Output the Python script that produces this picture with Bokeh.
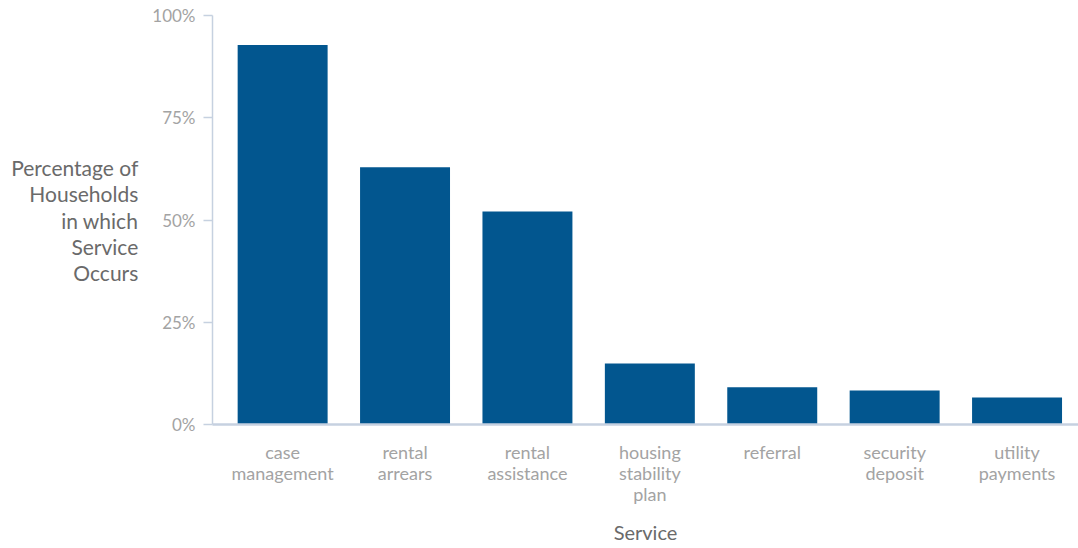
from bokeh.plotting import figure
from bokeh.models import Range1d, FixedTicker, NumeralTickFormatter
from bokeh.embed import file_html
from bokeh.resources import INLINE

services = ["case\nmanagement", "rental\narrears", "rental\nassistance",
            "housing\nstability\nplan", "referral", "security\ndeposit", "utility\npayments"]
pct = [0.928, 0.629, 0.521, 0.149, 0.091, 0.083, 0.066]
y_ticks = [0, 0.25, 0.5, 0.75, 1.0]
y_title = "Percentage of\nHouseholds\nin which\nService\nOccurs"
x_title = "Service"

idx = list(range(len(services)))

BAR = "#02568f"
AXIS = "#c6d1e0"
TICKC = "#a3a3a3"
TITLEC = "#6a6a6a"
FONT = "Lato"

p = figure(width=1078, height=548, output_backend="svg", toolbar_location=None,
           x_range=Range1d(-0.573, 6.502), y_range=Range1d(0, 1.0),
           min_border_left=212, min_border_right=0, min_border_top=15, min_border_bottom=124)
p.outline_line_color = None
p.grid.grid_line_color = None
p.background_fill_color = "white"
p.border_fill_color = "white"

p.vbar(x=idx, top=pct, width=0.735, bottom=0, color=BAR, line_color=None)

# y axis
ya = p.yaxis[0]
ya.ticker = FixedTicker(ticks=y_ticks)
ya.formatter = NumeralTickFormatter(format="0%")
ya.axis_line_color = AXIS
ya.axis_line_width = 1.5
ya.major_tick_line_color = AXIS
ya.major_tick_line_width = 1.5
ya.major_tick_out = 9
ya.major_tick_in = 0
ya.minor_tick_line_color = None
ya.major_label_text_font = FONT
ya.major_label_text_font_size = "17px"
ya.major_label_text_color = TICKC
ya.major_label_standoff = 8
ya.axis_label = y_title
ya.axis_label_orientation = "horizontal"
ya.axis_label_text_align = "right"
ya.axis_label_text_font = FONT
ya.axis_label_text_font_style = "normal"
ya.axis_label_text_font_size = "21px"
ya.axis_label_text_color = TITLEC
ya.axis_label_text_line_height = 1.05
ya.axis_label_standoff = 11

# x axis
xa = p.xaxis[0]
xa.ticker = FixedTicker(ticks=idx)
xa.major_label_overrides = {i: s for i, s in zip(idx, services)}
xa.axis_line_color = AXIS
xa.axis_line_width = 2.5
xa.major_tick_line_color = None
xa.minor_tick_line_color = None
xa.major_label_text_font = FONT
xa.major_label_text_font_size = "18px"
xa.major_label_text_color = TICKC
xa.major_label_text_line_height = 0.97
xa.major_label_standoff = 10
xa.axis_label = x_title
xa.axis_label_text_font = FONT
xa.axis_label_text_font_style = "normal"
xa.axis_label_text_font_size = "20px"
xa.axis_label_text_color = TITLEC
xa.axis_label_standoff = 12

open("out.html", "w").write(file_html(p, INLINE))
